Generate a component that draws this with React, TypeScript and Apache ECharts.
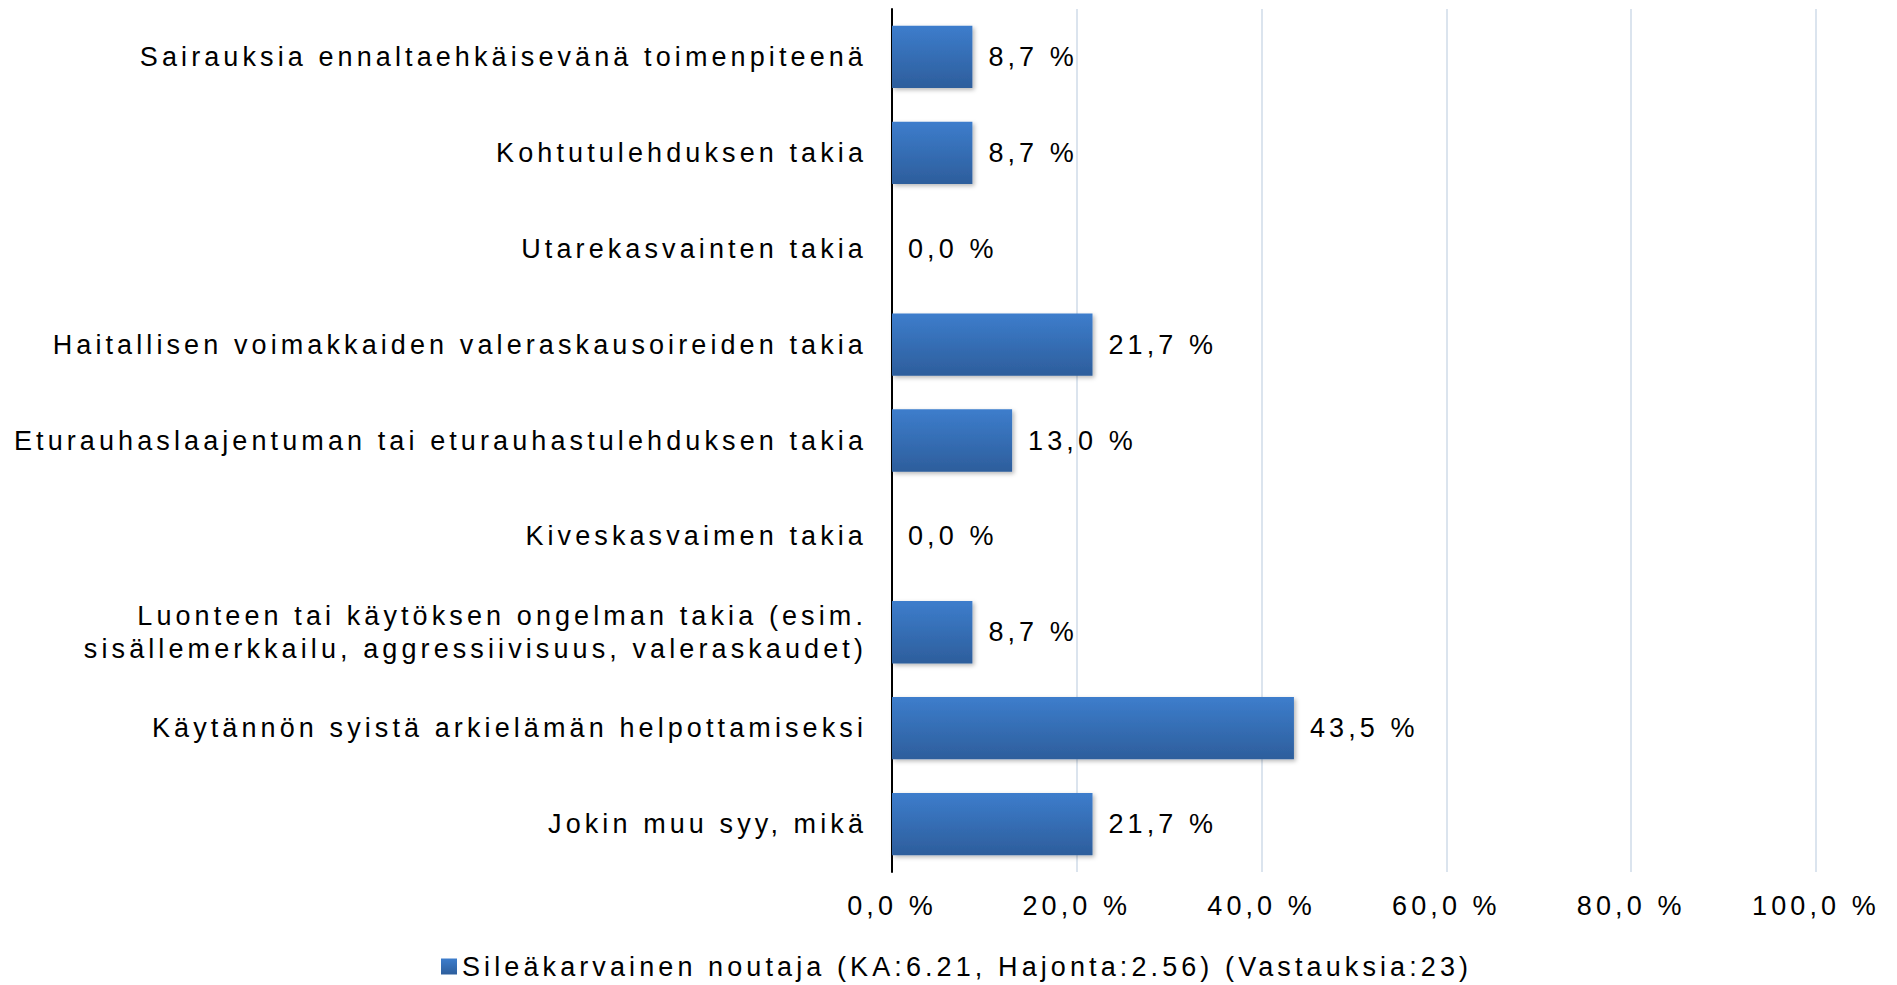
import React, { useEffect, useRef } from "react";
import * as echarts from "echarts";

const categories = [
  "Sairauksia ennaltaehkäisevänä toimenpiteenä",
  "Kohtutulehduksen takia",
  "Utarekasvainten takia",
  "Haitallisen voimakkaiden valeraskausoireiden takia",
  "Eturauhaslaajentuman tai eturauhastulehduksen takia",
  "Kiveskasvaimen takia",
  "Luonteen tai käytöksen ongelman takia (esim.\nsisällemerkkailu, aggressiivisuus, valeraskaudet)",
  "Käytännön syistä arkielämän helpottamiseksi",
  "Jokin muu syy, mikä",
];
const values = [8.7, 8.7, 0.0, 21.7, 13.0, 0.0, 8.7, 43.5, 21.7];
const seriesName = "Sileäkarvainen noutaja (KA:6.21, Hajonta:2.56) (Vastauksia:23)";
const axisTicks = [0, 20, 40, 60, 80, 100];

const fmt = (v: number) => v.toFixed(1).replace(".", ",") + " %";

export default function App() {
  const ref = useRef<HTMLDivElement>(null);
  useEffect(() => {
    document.body.style.margin = "0";
    const chart = echarts.init(ref.current!, undefined, { renderer: "svg" });
    const font = "'Liberation Sans', Arial, sans-serif";
    const barGrad = new echarts.graphic.LinearGradient(0, 0, 0, 1, [
      { offset: 0, color: "#3d7dcc" },
      { offset: 1, color: "#2d5e9c" },
    ]);
    chart.setOption({
      animation: false,
      backgroundColor: "#ffffff",
      textStyle: { fontFamily: font },
      grid: { left: 892, right: 81, top: 9, bottom: 113, containLabel: false },
      legend: {
        left: 436,
        top: 948,
        icon: "rect",
        itemWidth: 16,
        itemHeight: 16,
        itemGap: 10,
        textStyle: { fontSize: 27, color: "#000", fontFamily: font },
        data: [{ name: seriesName, itemStyle: { color: barGrad } }],
      },
      xAxis: {
        type: "value",
        min: axisTicks[0],
        max: axisTicks[axisTicks.length - 1],
        interval: axisTicks[1] - axisTicks[0],
        axisLine: { show: false },
        axisTick: { show: false },
        splitLine: { show: true, lineStyle: { color: "#dbe4ee", width: 2 } },
        axisLabel: {
          fontSize: 27,
          color: "#000",
          margin: 20,
          formatter: (v: number) => fmt(v),
        },
      },
      yAxis: {
        type: "category",
        inverse: true,
        data: categories,
        axisLine: { show: true, lineStyle: { color: "#000", width: 2 } },
        axisTick: { show: false },
        axisLabel: {
          interval: 0,
          fontSize: 27,
          lineHeight: 33,
          color: "#000",
          margin: 25,
          align: "right",
        },
      },
      series: [
        {
          name: seriesName,
          type: "bar",
          data: values,
          barCategoryGap: "35%",
          itemStyle: {
            color: barGrad,
            shadowColor: "rgba(0,0,0,0.28)",
            shadowBlur: 4,
            shadowOffsetX: 2,
            shadowOffsetY: 2,
          },
          label: {
            show: true,
            position: "right",
            distance: 16,
            fontSize: 27,
            color: "#000",
            formatter: (p: any) => fmt(p.value),
          },
        },
      ],
    });
    return () => chart.dispose();
  }, []);
  return (
    <div
      ref={ref}
      style={{
        position: "absolute",
        left: 0,
        top: 0,
        width: 1897,
        height: 985,
        letterSpacing: "4.1px",
      }}
    />
  );
}
